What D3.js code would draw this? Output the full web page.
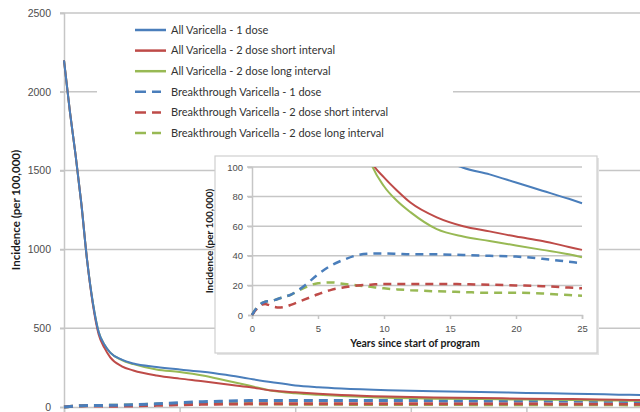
<!DOCTYPE html>
<html>
<head>
<meta charset="utf-8">
<script src="https://cdn.jsdelivr.net/npm/d3@7"></script>
<style>
  body { margin: 0; background: #fff; }
  svg { display: block; font-family: Lato, "Open Sans", sans-serif; }
</style>
</head>
<body>
<div id="chart"></div>
<script>
const years = [0, 0.25, 0.5, 0.75, 1, 1.25, 1.5, 1.75, 2, 2.5, 3, 4, 5, 6, 7, 8, 9, 10, 11, 12, 14, 16, 18, 20, 22, 24, 25];

const allOneDose   = [2200, 1880, 1600, 1290, 930, 660, 475, 395, 345, 300, 276, 254, 238, 224, 204, 180, 157, 137, 126, 118, 107, 99.5, 95, 89.5, 84, 78.5, 75.5];
const allTwoShort  = [2200, 1880, 1600, 1290, 930, 650, 460, 375, 315, 258, 232, 200, 180, 163, 144, 127, 104, 93, 84, 76, 66, 60, 56.5, 53, 50, 46, 44];
const allTwoLong   = [2200, 1880, 1600, 1290, 930, 660, 475, 395, 345, 298, 272, 238, 222, 200, 168, 136, 103, 87, 77, 69.5, 58, 53, 50, 47, 44, 41, 39];
const btOneDose    = [0, 3.5, 6, 8, 9, 9.3, 9.6, 10.2, 11, 12.3, 14, 20, 27.5, 33.5, 37.5, 40.5, 41.5, 41.5, 41.3, 41, 41, 40.5, 40, 39.5, 38, 36, 35];
const btTwoShort   = [0, 3, 5.5, 7, 7.5, 6.8, 6, 5.4, 5, 5.5, 7, 10.5, 14, 17, 18.7, 20, 20.5, 21, 21, 21, 21, 20.8, 20.5, 20, 19.5, 18.5, 18];
const btTwoLong    = [0, 3.5, 6, 8, 9, 9.3, 9.6, 10.2, 11, 12.3, 14, 18.5, 21.5, 22, 21, 20, 19, 18, 17.3, 16.8, 16, 15.5, 15, 15, 14.5, 13.5, 13];

const seriesNames = [
  "All Varicella - 1 dose",
  "All Varicella - 2 dose short interval",
  "All Varicella - 2 dose long interval",
  "Breakthrough Varicella - 1 dose",
  "Breakthrough Varicella - 2 dose short interval",
  "Breakthrough Varicella - 2 dose long interval"
];
const seriesValues = [allOneDose, allTwoShort, allTwoLong, btOneDose, btTwoShort, btTwoLong];
const seriesColors = ["#4a7ebb", "#be4b48", "#98b954", "#4a7ebb", "#be4b48", "#98b954"];
const seriesDashed = [false, false, false, true, true, true];

const mainYTicks = [0, 500, 1000, 1500, 2000, 2500];
const insetYTicks = [0, 20, 40, 60, 80, 100];
const xTicks = [0, 5, 10, 15, 20, 25];

const series = seriesNames.map((name, i) => ({
  name,
  color: seriesColors[i],
  dashed: seriesDashed[i],
  points: years.map((t, j) => ({ t, v: seriesValues[i][j] }))
}));

const width = 640, height = 412;
const gridColor = "#c6c6c6";
const labelColor = "#4d4d4d";

const svg = d3.select("#chart").append("svg")
  .attr("width", width)
  .attr("height", height);

// main chart
const x = d3.scaleLinear().domain([0, 25]).range([64, 642]);
const y = d3.scaleLinear().domain([0, 2500]).range([407, 13]);

svg.append("g")
  .selectAll("line")
  .data(mainYTicks.filter(d => d > 0))
  .enter()
  .append("line")
  .attr("x1", 60).attr("x2", width)
  .attr("y1", d => y(d)).attr("y2", d => y(d))
  .attr("stroke", gridColor).attr("stroke-width", 1.5);

const yAxis = svg.append("g")
  .attr("transform", "translate(64,0)")
  .call(d3.axisLeft(y).tickValues(mainYTicks).tickFormat(d3.format("d")).tickSize(4).tickPadding(9));
yAxis.select(".domain").attr("stroke", gridColor).attr("stroke-width", 1.5);
yAxis.selectAll(".tick line").attr("stroke", gridColor).attr("stroke-width", 1.5);
yAxis.selectAll("text").attr("fill", labelColor).attr("font-size", 10.5);

const xAxis = svg.append("g")
  .attr("transform", `translate(0,${y(0)})`)
  .call(d3.axisBottom(x).tickValues(xTicks).tickSize(5).tickFormat(""));
xAxis.select(".domain").attr("stroke", gridColor).attr("stroke-width", 1.5);
xAxis.selectAll(".tick line").attr("stroke", gridColor).attr("stroke-width", 1.5);

svg.append("text")
  .attr("transform", `translate(20,${(y(0) + y(2500)) / 2}) rotate(-90)`)
  .attr("text-anchor", "middle")
  .attr("font-size", 11.5)
  .attr("font-weight", "bold")
  .attr("fill", "#1a1a1a")
  .text("Incidence (per 100,000)");

const mainLine = d3.line().x(d => x(d.t)).y(d => y(d.v)).curve(d3.curveMonotoneX);

svg.append("g")
  .selectAll("path")
  .data(series.slice().reverse())
  .enter()
  .append("path")
  .attr("d", d => mainLine(d.points))
  .attr("fill", "none")
  .attr("stroke", d => d.color)
  .attr("stroke-width", d => d.dashed ? 3 : 2)
  .attr("stroke-dasharray", d => d.dashed ? "9 6" : null);

// legend
svg.append("rect")
  .attr("x", 97).attr("y", 18).attr("width", 356).attr("height", 126)
  .attr("fill", "#fff");

const legend = svg.append("g")
  .selectAll("g")
  .data(series)
  .enter()
  .append("g")
  .attr("transform", (d, i) => `translate(135,${30 + i * 20.6})`);

legend.append("line")
  .attr("x1", 0).attr("x2", d => d.dashed ? 26 : 31)
  .attr("stroke", d => d.color)
  .attr("stroke-width", 2.5)
  .attr("stroke-dasharray", d => d.dashed ? "11 6" : null);

legend.append("text")
  .attr("x", 36).attr("dy", "0.35em")
  .attr("font-size", 11)
  .attr("fill", "#333")
  .text(d => d.name);

// inset chart
const inset = svg.append("g");

inset.append("rect")
  .attr("x", 217).attr("y", 158).attr("width", 382).attr("height", 197)
  .attr("fill", "#e4e4e4");
inset.append("rect")
  .attr("x", 215).attr("y", 156).attr("width", 382).attr("height", 197)
  .attr("fill", "#fff")
  .attr("stroke", "#cfcfcf").attr("stroke-width", 1.2);

const xi = d3.scaleLinear().domain([0, 25]).range([252, 582]);
const yi = d3.scaleLinear().domain([0, 100]).range([315, 167]);

inset.append("g")
  .selectAll("line")
  .data(insetYTicks.filter(d => d > 0))
  .enter()
  .append("line")
  .attr("x1", 247).attr("x2", xi(25))
  .attr("y1", d => yi(d)).attr("y2", d => yi(d))
  .attr("stroke", gridColor).attr("stroke-width", 1.5);

const yAxisI = inset.append("g")
  .attr("transform", `translate(${xi(0)},0)`)
  .call(d3.axisLeft(yi).tickValues(insetYTicks).tickSize(4).tickPadding(5));
yAxisI.select(".domain").attr("stroke", gridColor).attr("stroke-width", 1.5);
yAxisI.selectAll(".tick line").attr("stroke", gridColor).attr("stroke-width", 1.5);
yAxisI.selectAll("text").attr("fill", labelColor).attr("font-size", 9.5);

const xAxisI = inset.append("g")
  .attr("transform", `translate(0,${yi(0)})`)
  .call(d3.axisBottom(xi).tickValues(xTicks).tickSize(4).tickPadding(6));
xAxisI.select(".domain").attr("stroke", gridColor).attr("stroke-width", 1.5);
xAxisI.selectAll(".tick line").attr("stroke", gridColor).attr("stroke-width", 1.5);
xAxisI.selectAll("text").attr("fill", labelColor).attr("font-size", 9.5);

inset.append("text")
  .attr("transform", `translate(213,${(yi(0) + yi(100)) / 2}) rotate(-90)`)
  .attr("text-anchor", "middle")
  .attr("font-size", 10)
  .attr("font-weight", "bold")
  .attr("fill", "#1a1a1a")
  .text("Incidence (per 100,000)");

inset.append("text")
  .attr("x", 415).attr("y", 347)
  .attr("text-anchor", "middle")
  .attr("font-size", 10.5)
  .attr("font-weight", "bold")
  .attr("fill", "#1a1a1a")
  .text("Years since start of program");

svg.append("clipPath").attr("id", "insetClip")
  .append("rect")
  .attr("x", xi(0) - 2).attr("y", yi(100))
  .attr("width", xi(25) - xi(0) + 4).attr("height", yi(0) - yi(100) + 2);

const insetLine = d3.line().x(d => xi(d.t)).y(d => yi(d.v)).curve(d3.curveMonotoneX);

inset.append("g")
  .attr("clip-path", "url(#insetClip)")
  .selectAll("path")
  .data(series.slice().reverse())
  .enter()
  .append("path")
  .attr("d", d => insetLine(d.points))
  .attr("fill", "none")
  .attr("stroke", d => d.color)
  .attr("stroke-width", d => d.dashed ? 2.5 : 2)
  .attr("stroke-dasharray", d => d.dashed ? "8 6" : null);
</script>
</body>
</html>
